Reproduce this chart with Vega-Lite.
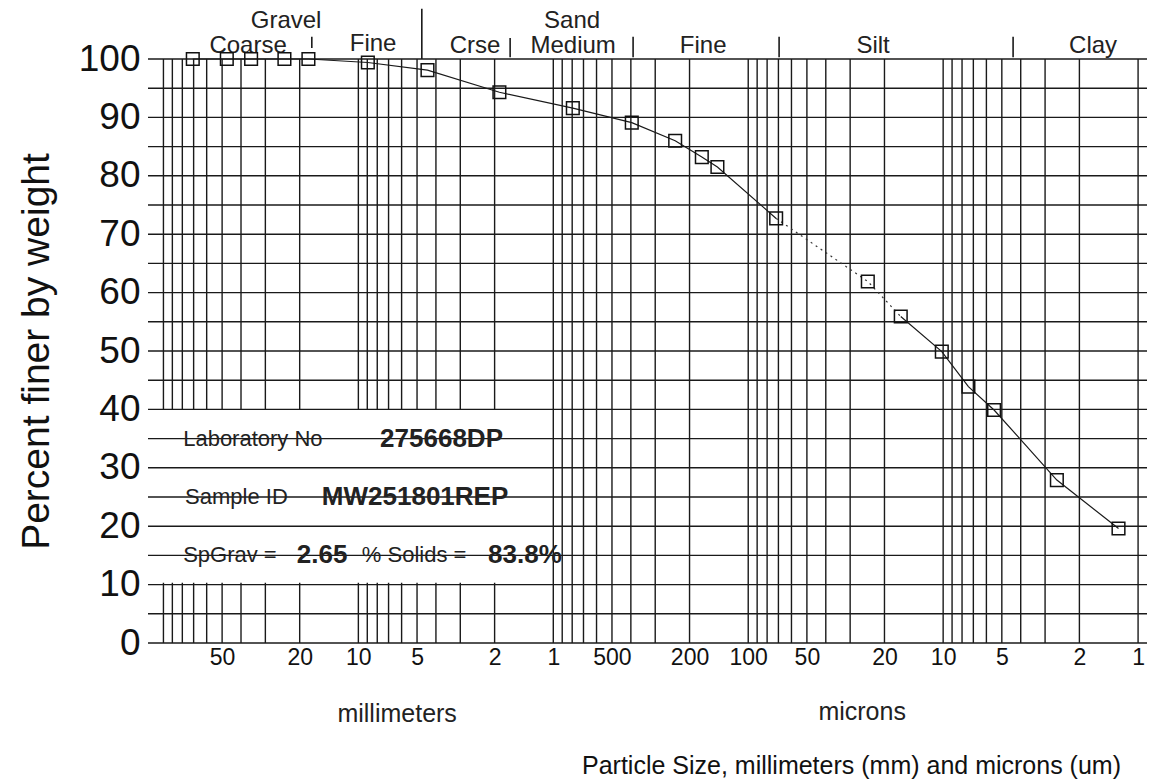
{
  "$schema": "https://vega.github.io/schema/vega-lite/v6.json",
  "autosize": {"type": "none"},
  "width": 999,
  "height": 584,
  "padding": {"left": 148, "top": 59, "right": 12, "bottom": 140},
  "background": "white",
  "config": {
    "view": {"stroke": null},
    "font": "Liberation Sans",
    "text": {"font": "Liberation Sans", "color": "#111111"},
    "axis": {"grid": false, "ticks": false, "domain": false}
  },
  "datasets": {
    "points": [
      {"size": 70.7, "pct": 100},
      {"size": 47.3, "pct": 100},
      {"size": 35.5, "pct": 100},
      {"size": 23.95, "pct": 100},
      {"size": 18.04, "pct": 100},
      {"size": 8.94, "pct": 99.4},
      {"size": 4.42, "pct": 98.1},
      {"size": 1.89, "pct": 94.3},
      {"size": 0.794, "pct": 91.6},
      {"size": 0.3957, "pct": 89.1},
      {"size": 0.237, "pct": 86.0},
      {"size": 0.173, "pct": 83.2},
      {"size": 0.1439, "pct": 81.5},
      {"size": 0.0719, "pct": 72.7},
      {"size": 0.02435, "pct": 61.9},
      {"size": 0.0165, "pct": 55.9},
      {"size": 0.01016, "pct": 49.9},
      {"size": 0.00742, "pct": 43.9},
      {"size": 0.00548, "pct": 39.9},
      {"size": 0.00261, "pct": 27.9},
      {"size": 0.00126, "pct": 19.6}
    ],
    "curve": [
      {"size": 70.7, "pct": 100, "seg": "sieve"},
      {"size": 47.3, "pct": 100, "seg": "sieve"},
      {"size": 35.5, "pct": 100, "seg": "sieve"},
      {"size": 23.95, "pct": 100, "seg": "sieve"},
      {"size": 18.04, "pct": 100, "seg": "sieve"},
      {"size": 8.94, "pct": 99.4, "seg": "sieve"},
      {"size": 4.42, "pct": 98.1, "seg": "sieve"},
      {"size": 1.89, "pct": 94.3, "seg": "sieve"},
      {"size": 0.794, "pct": 91.6, "seg": "sieve"},
      {"size": 0.3957, "pct": 89.1, "seg": "sieve"},
      {"size": 0.237, "pct": 86.0, "seg": "sieve"},
      {"size": 0.173, "pct": 83.2, "seg": "sieve"},
      {"size": 0.1439, "pct": 81.5, "seg": "sieve"},
      {"size": 0.0719, "pct": 72.7, "seg": "sieve"},
      {"size": 0.0719, "pct": 72.7, "seg": "link"},
      {"size": 0.02435, "pct": 61.9, "seg": "link"},
      {"size": 0.0165, "pct": 55.9, "seg": "link"},
      {"size": 0.0165, "pct": 55.9, "seg": "hydro"},
      {"size": 0.01016, "pct": 49.9, "seg": "hydro"},
      {"size": 0.00742, "pct": 43.9, "seg": "hydro"},
      {"size": 0.00548, "pct": 39.9, "seg": "hydro"},
      {"size": 0.00261, "pct": 27.9, "seg": "hydro"},
      {"size": 0.00126, "pct": 19.6, "seg": "hydro"}
    ],
    "vgrid": [
      {"size": 100}, {"size": 90}, {"size": 80}, {"size": 70}, {"size": 60}, {"size": 50}, {"size": 40}, {"size": 30}, {"size": 20},
      {"size": 10}, {"size": 9}, {"size": 8}, {"size": 7}, {"size": 6}, {"size": 5}, {"size": 4}, {"size": 3}, {"size": 2},
      {"size": 1}, {"size": 0.9}, {"size": 0.8}, {"size": 0.7}, {"size": 0.6}, {"size": 0.5}, {"size": 0.4}, {"size": 0.3}, {"size": 0.2},
      {"size": 0.1}, {"size": 0.09}, {"size": 0.08}, {"size": 0.07}, {"size": 0.06}, {"size": 0.05}, {"size": 0.04}, {"size": 0.03}, {"size": 0.02},
      {"size": 0.01}, {"size": 0.009}, {"size": 0.008}, {"size": 0.007}, {"size": 0.006}, {"size": 0.005}, {"size": 0.004}, {"size": 0.003}, {"size": 0.002},
      {"size": 0.001}
    ],
    "hgrid": [
      {"pct": 0}, {"pct": 5}, {"pct": 10}, {"pct": 15}, {"pct": 20}, {"pct": 25}, {"pct": 30}, {"pct": 35}, {"pct": 40}, {"pct": 45}, {"pct": 50},
      {"pct": 55}, {"pct": 60}, {"pct": 65}, {"pct": 70}, {"pct": 75}, {"pct": 80}, {"pct": 85}, {"pct": 90}, {"pct": 95}, {"pct": 100}
    ],
    "box": [{"size": 121, "size2": 1.02, "pct": 10.3, "pct2": 40}],
    "info": [
      {"size": 79.2, "pct": 35, "text": "Laboratory No", "role": "label"},
      {"size": 7.735, "pct": 35, "text": "275668DP", "role": "value"},
      {"size": 77.4, "pct": 25, "text": "Sample ID", "role": "label"},
      {"size": 15.39, "pct": 25, "text": "MW251801REP", "role": "value"},
      {"size": 79.2, "pct": 15, "text": "SpGrav =", "role": "label"},
      {"size": 20.69, "pct": 15, "text": "2.65", "role": "value"},
      {"size": 9.6, "pct": 15, "text": "% Solids =", "role": "label"},
      {"size": 2.16, "pct": 15, "text": "83.8%", "role": "value"}
    ],
    "zones": [
      {"size": 23.48, "pct": 105.3, "text": "Gravel"},
      {"size": 0.8007, "pct": 105.3, "text": "Sand"},
      {"size": 36.77, "pct": 101.0, "text": "Coarse"},
      {"size": 8.4, "pct": 101.4, "text": "Fine"},
      {"size": 2.518, "pct": 101.0, "text": "Crse"},
      {"size": 0.791, "pct": 101.0, "text": "Medium"},
      {"size": 0.1703, "pct": 101.0, "text": "Fine"},
      {"size": 0.02288, "pct": 101.0, "text": "Silt"},
      {"size": 0.001701, "pct": 101.0, "text": "Clay"}
    ],
    "dividers": [
      {"size": 17.33, "pct": 101.9, "pct2": 103.8},
      {"size": 4.726, "pct": 100, "pct2": 108.6},
      {"size": 1.665, "pct": 100.3, "pct2": 103.6},
      {"size": 0.3896, "pct": 100.3, "pct2": 103.8},
      {"size": 0.06944, "pct": 100.3, "pct2": 103.8},
      {"size": 0.004377, "pct": 100.3, "pct2": 103.8}
    ],
    "units": [
      {"size": 6.326, "pct": -12.2, "text": "millimeters"},
      {"size": 0.02604, "pct": -11.8, "text": "microns"}
    ]
  },
  "layer": [
    {
      "data": {"name": "points"},
      "mark": {"type": "point", "shape": "square", "size": 160, "filled": false, "stroke": "#111111", "strokeWidth": 1.5, "opacity": 0},
      "encoding": {
        "x": {
          "field": "size", "type": "quantitative",
          "scale": {"type": "log", "domain": [0.0009, 120], "reverse": true, "nice": false, "zero": false},
          "axis": {
            "values": [50, 20, 10, 5, 2, 1, 0.5, 0.2, 0.1, 0.05, 0.02, 0.01, 0.005, 0.002, 0.001],
            "labelExpr": "datum.value >= 1 ? '' + datum.value : '' + round(datum.value * 1000)",
            "labelFont": "Liberation Sans", "labelFontSize": 23, "labelColor": "#111111", "labelPadding": 3,
            "labelFlush": false, "labelOverlap": false, "labelBound": false,
            "ticks": false, "domain": false, "grid": false,
            "title": "Particle Size, millimeters (mm) and microns (um)",
            "titleFont": "Liberation Sans", "titleFontSize": 25, "titleFontWeight": "normal", "titleColor": "#111111",
            "titleAlign": "center", "titleBaseline": "alphabetic", "titleX": 703, "titleY": 130
          }
        },
        "y": {
          "field": "pct", "type": "quantitative",
          "scale": {"domain": [0, 100], "nice": false, "zero": true},
          "axis": {
            "values": [0, 10, 20, 30, 40, 50, 60, 70, 80, 90, 100],
            "labelFont": "Liberation Sans", "labelFontSize": 37, "labelColor": "#111111", "labelPadding": 8,
            "ticks": false, "domain": false, "grid": false,
            "title": "Percent finer by weight",
            "titleFont": "Liberation Sans", "titleFontSize": 39, "titleFontWeight": "normal", "titleColor": "#111111",
            "titlePadding": 22
          }
        }
      }
    },
    {
      "data": {"name": "vgrid"},
      "mark": {"type": "rule", "stroke": "#1a1a1a", "strokeWidth": 1.4},
      "encoding": {
        "x": {"field": "size", "type": "quantitative", "scale": {"type": "log", "domain": [0.0009, 120], "reverse": true, "nice": false, "zero": false}}
      }
    },
    {
      "data": {"name": "box"},
      "mark": {"type": "rect", "fill": "white"},
      "encoding": {
        "x": {"field": "size", "type": "quantitative", "scale": {"type": "log", "domain": [0.0009, 120], "reverse": true, "nice": false, "zero": false}},
        "x2": {"field": "size2"},
        "y": {"field": "pct", "type": "quantitative", "scale": {"domain": [0, 100], "nice": false, "zero": true}},
        "y2": {"field": "pct2"}
      }
    },
    {
      "data": {"name": "hgrid"},
      "mark": {"type": "rule", "stroke": "#1a1a1a", "strokeWidth": 1.4},
      "encoding": {
        "y": {"field": "pct", "type": "quantitative", "scale": {"domain": [0, 100], "nice": false, "zero": true}}
      }
    },
    {
      "data": {"name": "info"},
      "transform": [{"filter": "datum.role === 'label'"}],
      "mark": {"type": "text", "align": "left", "baseline": "middle", "fontSize": 22, "color": "#222222"},
      "encoding": {
        "x": {"field": "size", "type": "quantitative", "scale": {"type": "log", "domain": [0.0009, 120], "reverse": true, "nice": false, "zero": false}},
        "y": {"field": "pct", "type": "quantitative", "scale": {"domain": [0, 100], "nice": false, "zero": true}},
        "text": {"field": "text"}
      }
    },
    {
      "data": {"name": "info"},
      "transform": [{"filter": "datum.role === 'value'"}],
      "mark": {"type": "text", "align": "left", "baseline": "middle", "fontSize": 26, "fontWeight": "bold", "color": "#222222"},
      "encoding": {
        "x": {"field": "size", "type": "quantitative", "scale": {"type": "log", "domain": [0.0009, 120], "reverse": true, "nice": false, "zero": false}},
        "y": {"field": "pct", "type": "quantitative", "scale": {"domain": [0, 100], "nice": false, "zero": true}},
        "text": {"field": "text"}
      }
    },
    {
      "data": {"name": "zones"},
      "mark": {"type": "text", "align": "center", "baseline": "alphabetic", "fontSize": 24, "color": "#222222"},
      "encoding": {
        "x": {"field": "size", "type": "quantitative", "scale": {"type": "log", "domain": [0.0009, 120], "reverse": true, "nice": false, "zero": false}},
        "y": {"field": "pct", "type": "quantitative", "scale": {"domain": [0, 100], "nice": false, "zero": true}},
        "text": {"field": "text"}
      }
    },
    {
      "data": {"name": "dividers"},
      "mark": {"type": "rule", "stroke": "#1a1a1a", "strokeWidth": 1.6},
      "encoding": {
        "x": {"field": "size", "type": "quantitative", "scale": {"type": "log", "domain": [0.0009, 120], "reverse": true, "nice": false, "zero": false}},
        "y": {"field": "pct", "type": "quantitative", "scale": {"domain": [0, 100], "nice": false, "zero": true}},
        "y2": {"field": "pct2"}
      }
    },
    {
      "data": {"name": "units"},
      "mark": {"type": "text", "align": "center", "baseline": "middle", "fontSize": 25, "color": "#222222"},
      "encoding": {
        "x": {"field": "size", "type": "quantitative", "scale": {"type": "log", "domain": [0.0009, 120], "reverse": true, "nice": false, "zero": false}},
        "y": {"field": "pct", "type": "quantitative", "scale": {"domain": [0, 100], "nice": false, "zero": true}},
        "text": {"field": "text"}
      }
    },
    {
      "data": {"name": "curve"},
      "transform": [{"filter": "datum.seg !== 'link'"}],
      "mark": {"type": "line", "stroke": "#1a1a1a", "strokeWidth": 1.2},
      "encoding": {
        "x": {"field": "size", "type": "quantitative", "scale": {"type": "log", "domain": [0.0009, 120], "reverse": true, "nice": false, "zero": false}},
        "y": {"field": "pct", "type": "quantitative", "scale": {"domain": [0, 100], "nice": false, "zero": true}},
        "detail": {"field": "seg"},
        "order": {"field": "size", "sort": "descending"}
      }
    },
    {
      "data": {"name": "curve"},
      "transform": [{"filter": "datum.seg === 'link'"}],
      "mark": {"type": "line", "stroke": "#333333", "strokeWidth": 1.2, "strokeDash": [2, 4]},
      "encoding": {
        "x": {"field": "size", "type": "quantitative", "scale": {"type": "log", "domain": [0.0009, 120], "reverse": true, "nice": false, "zero": false}},
        "y": {"field": "pct", "type": "quantitative", "scale": {"domain": [0, 100], "nice": false, "zero": true}},
        "order": {"field": "size", "sort": "descending"}
      }
    },
    {
      "data": {"name": "points"},
      "mark": {"type": "point", "shape": "square", "size": 160, "filled": false, "stroke": "#111111", "strokeWidth": 1.5, "opacity": 1},
      "encoding": {
        "x": {"field": "size", "type": "quantitative", "scale": {"type": "log", "domain": [0.0009, 120], "reverse": true, "nice": false, "zero": false}},
        "y": {"field": "pct", "type": "quantitative", "scale": {"domain": [0, 100], "nice": false, "zero": true}}
      }
    }
  ]
}
